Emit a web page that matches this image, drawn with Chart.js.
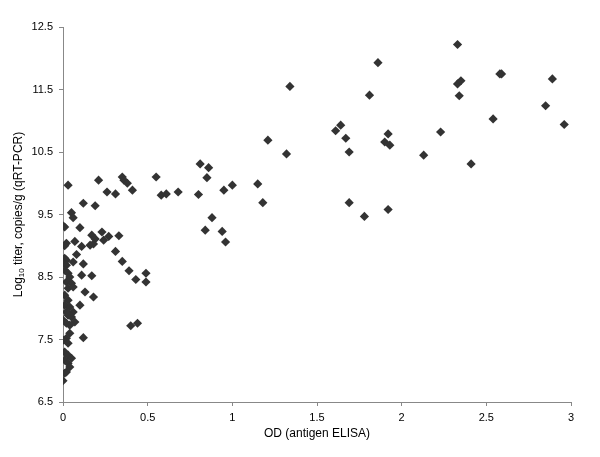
<!DOCTYPE html>
<html lang="en">
<head>
  <meta charset="UTF-8" />
  <title>OD vs titer</title>
  <script src="https://cdn.jsdelivr.net/npm/chart.js"></script>
  <style>
    html, body { margin: 0; padding: 0; background: #fff; }
    #wrap { width: 600px; height: 457px; position: relative; }
  </style>
</head>
<body>
<div id="wrap"><canvas id="grafico"></canvas></div>

<script>
// OD (antigen ELISA) and log10 titer
const odValues = [
  2.33, 1.86, 2.58, 2.59, 2.89, 2.33, 2.35, 1.81, 2.34, 2.85, 2.54, 2.96, 1.64, 1.61, 1.67, 1.92, 1.90, 1.93, 2.23, 1.69, 2.13, 2.41, 1.69, 1.78, 1.92, 1.34, 1.21, 1.32,
  0.81, 0.86, 0.85, 0.80, 0.95, 1.00, 1.15, 1.18, 0.88, 0.84, 0.94, 0.96, 0.55, 0.58, 0.61, 0.68,
  0.35, 0.36, 0.38, 0.41, 0.26, 0.31, 0.21, 0.03, 0.12, 0.19, 0.05, 0.06, 0.00, 0.01, 0.10, 0.23, 0.33, 0.17, 0.19, 0.24, 0.27,
  0.02, 0.01, 0.07, 0.11, 0.16, 0.18, 0.31, 0.08, 0.35, 0.01, 0.02, 0.00, 0.02, 0.06, 0.12, 0.39, 0.01, 0.03, 0.04, 0.43, 0.49, 0.49, 0.11, 0.17,
  0.02, 0.05, 0.03, 0.06, 0.13, 0.18, 0.01, 0.03, 0.01, 0.04, 0.10, 0.02, 0.06, 0.03, 0.05, 0.00, 0.02, 0.07, 0.04, 0.40, 0.44,
  0.04, 0.02, 0.00, 0.12, 0.03, 0.01, 0.03, 0.05, 0.01, 0.03, 0.04, 0.02, 0.01, 0.00
];
const titerValues = [
  12.22, 11.93, 11.75, 11.75, 11.67, 11.59, 11.64, 11.41, 11.40, 11.24, 11.03, 10.94, 10.93, 10.84, 10.72, 10.79, 10.66, 10.61, 10.82, 10.50, 10.45, 10.31, 9.69, 9.47, 9.58, 11.55, 10.69, 10.47,
  10.31, 10.25, 10.09, 9.82, 9.89, 9.97, 9.99, 9.69, 9.45, 9.25, 9.23, 9.06, 10.10, 9.81, 9.83, 9.86,
  10.10, 10.05, 10.00, 9.89, 9.86, 9.83, 10.05, 9.97, 9.68, 9.64, 9.53, 9.45, 9.32, 9.30, 9.29, 9.22, 9.16, 9.17, 9.11, 9.09, 9.15,
  9.04, 9.00, 9.07, 8.99, 9.01, 9.03, 8.91, 8.86, 8.75, 8.80, 8.77, 8.72, 8.69, 8.74, 8.71, 8.60, 8.61, 8.56, 8.50, 8.46, 8.56, 8.42, 8.53, 8.52,
  8.42, 8.40, 8.32, 8.34, 8.26, 8.18, 8.21, 8.13, 8.05, 8.02, 8.05, 7.94, 7.94, 7.89, 7.86, 7.81, 7.76, 7.78, 7.73, 7.72, 7.76,
  7.60, 7.52, 7.49, 7.53, 7.44, 7.30, 7.25, 7.20, 7.17, 7.12, 7.06, 6.98, 6.96, 6.84
];
const xTicks = [0, 0.5, 1, 1.5, 2, 2.5, 3];
const yTicks = [6.5, 7.5, 8.5, 9.5, 10.5, 11.5, 12.5];

const puntos = odValues.map((x, i) => ({ x: x, y: titerValues[i] }));

const fuente = 'Arial, "Liberation Sans", sans-serif';

// y title with a real subscript "10"
const tituloY = {
  id: 'tituloY',
  afterDraw(chart) {
    const { ctx, chartArea } = chart;
    const partes = [
      { t: 'Log', size: 12, dy: 0 },
      { t: '10', size: 8, dy: 3 },
      { t: ' titer, copies/g (qRT-PCR)', size: 12, dy: 0 }
    ];
    ctx.save();
    let total = 0;
    partes.forEach(p => { ctx.font = p.size + 'px ' + fuente; total += ctx.measureText(p.t).width; });
    ctx.translate(19, (chartArea.top + chartArea.bottom) / 2);
    ctx.rotate(-Math.PI / 2);
    ctx.fillStyle = '#000';
    ctx.textBaseline = 'middle';
    let x = -total / 2;
    partes.forEach(p => {
      ctx.font = p.size + 'px ' + fuente;
      ctx.fillText(p.t, x, p.dy);
      x += ctx.measureText(p.t).width;
    });
    ctx.restore();
  }
};

new Chart(document.getElementById('grafico'), {
  type: 'scatter',
  data: {
    datasets: [{
      data: puntos,
      pointStyle: 'rectRot',
      pointRadius: 4.6,
      pointHoverRadius: 4.6,
      backgroundColor: '#333333',
      borderColor: '#333333',
      borderWidth: 0
    }]
  },
  options: {
    responsive: true,
    maintainAspectRatio: false,
    animation: false,
    layout: { padding: { left: 0, right: 29, top: 27, bottom: 0 } },
    plugins: {
      legend: { display: false },
      tooltip: { enabled: false }
    },
    scales: {
      x: {
        type: 'linear',
        min: 0,
        max: 3,
        afterBuildTicks: (s) => { s.ticks = xTicks.map(v => ({ value: v })); },
        afterFit: (s) => { s.height = 55; },
        ticks: {
          color: '#000', font: { family: fuente, size: 11 }, padding: 5, maxRotation: 0,
          callback: (v) => String(v)
        },
        grid: { drawOnChartArea: false, tickLength: 4, color: '#888' },
        border: { color: '#888', width: 1 },
        title: {
          display: true,
          text: 'OD (antigen ELISA)',
          color: '#000',
          font: { family: fuente, size: 12 },
          padding: { top: 0, bottom: 16 }
        }
      },
      y: {
        type: 'linear',
        min: 6.5,
        max: 12.5,
        afterBuildTicks: (s) => { s.ticks = yTicks.map(v => ({ value: v })); },
        afterFit: (s) => { s.width = 63; },
        ticks: {
          color: '#000', font: { family: fuente, size: 11 }, padding: 6,
          callback: (v) => String(v)
        },
        grid: { drawOnChartArea: false, tickLength: 4, color: '#888' },
        border: { color: '#888', width: 1 }
      }
    }
  },
  plugins: [tituloY]
});
</script>
</body>
</html>
